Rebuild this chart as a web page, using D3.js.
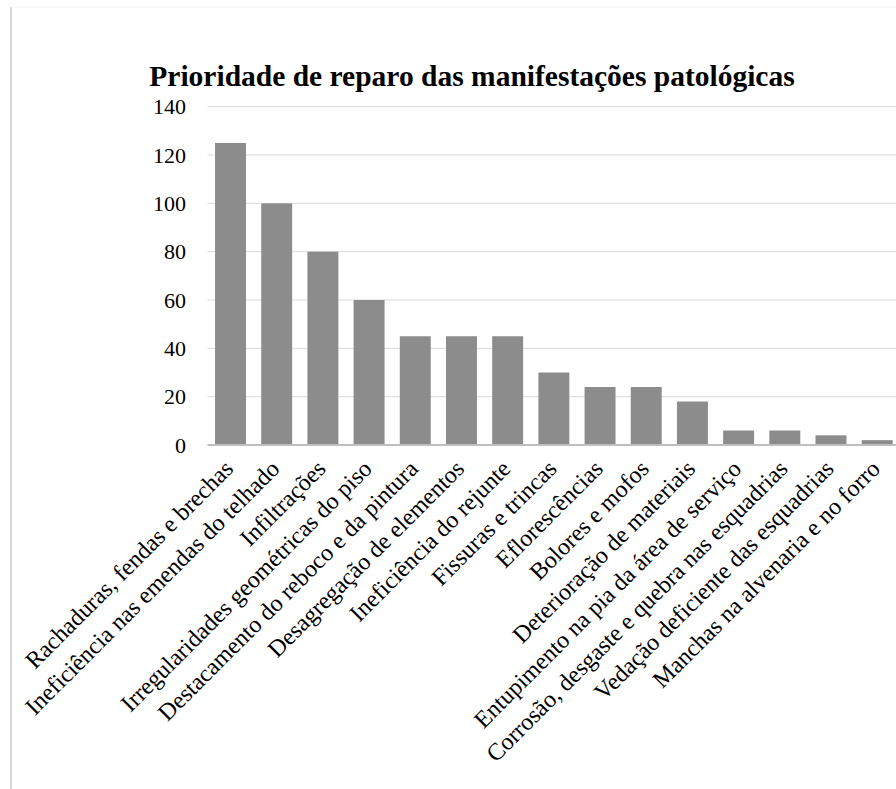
<!DOCTYPE html>
<html>
<head>
<meta charset="utf-8">
<script src="https://cdn.jsdelivr.net/npm/d3@7"></script>
<style>
  html, body { margin: 0; padding: 0; background: #fff; }
  svg { display: block; font-family: "Liberation Serif", "Times New Roman", serif; }
</style>
</head>
<body>
<svg id="chart" width="896" height="789"></svg>
<script>
const categories = [
  "Rachaduras, fendas e brechas",
  "Ineficiência nas emendas do telhado",
  "Infiltrações",
  "Irregularidades geométricas do piso",
  "Destacamento do reboco e da pintura",
  "Desagregação de elementos",
  "Ineficiência do rejunte",
  "Fissuras e trincas",
  "Eflorescências",
  "Bolores e mofos",
  "Deterioração de materiais",
  "Entupimento na pia da área de serviço",
  "Corrosão, desgaste e quebra nas esquadrias",
  "Vedação deficiente das esquadrias",
  "Manchas na alvenaria e no forro"
];
const values = [125, 100, 80, 60, 45, 45, 45, 30, 24, 24, 18, 6, 6, 4, 2];
const yTicks = [0, 20, 40, 60, 80, 100, 120, 140];
const title = "Prioridade de reparo das manifestações patológicas";

const svg = d3.select("#chart");
const width = 896, height = 789;
const margin = { top: 106.7, left: 207.4, right: -4.3 };
const baseY = 445;

// frame lines of the page around the chart
svg.append("line")
  .attr("x1", 11).attr("x2", 11).attr("y1", 7).attr("y2", height)
  .attr("stroke", "#d6d6d6").attr("stroke-width", 2);
svg.append("line")
  .attr("x1", 10).attr("x2", width).attr("y1", 7).attr("y2", 7)
  .attr("stroke", "#f2f2f2").attr("stroke-width", 1);

const x = d3.scaleBand()
  .domain(categories)
  .range([margin.left, width - margin.right])
  .paddingInner(0.33)
  .paddingOuter(0.165);

const y = d3.scaleLinear()
  .domain([0, 140])
  .range([baseY, margin.top]);

// gridlines
svg.append("g")
  .selectAll("line")
  .data(yTicks.filter(d => d > 0))
  .join("line")
  .attr("x1", margin.left)
  .attr("x2", width)
  .attr("y1", d => y(d))
  .attr("y2", d => y(d))
  .attr("stroke", "#d9d9d9")
  .attr("stroke-width", 1);

// y tick labels
svg.append("g")
  .selectAll("text")
  .data(yTicks)
  .join("text")
  .attr("x", 186)
  .attr("y", d => y(d))
  .attr("dy", "0.35em")
  .attr("text-anchor", "end")
  .attr("font-size", 22)
  .attr("fill", "#000")
  .text(d => d);

// bars
svg.append("g")
  .selectAll("rect")
  .data(values)
  .join("rect")
  .attr("x", (d, i) => x(categories[i]))
  .attr("width", x.bandwidth())
  .attr("y", d => y(d))
  .attr("height", d => baseY - y(d))
  .attr("fill", "#8c8c8c");

// baseline
svg.append("line")
  .attr("x1", margin.left).attr("x2", width)
  .attr("y1", baseY).attr("y2", baseY)
  .attr("stroke", "#bfbfbf").attr("stroke-width", 2);

// rotated category labels
svg.append("g")
  .selectAll("text")
  .data(categories)
  .join("text")
  .attr("transform", d => `translate(${x(d) + x.bandwidth() / 2 - 8},${baseY + 13}) rotate(-45)`)
  .attr("dy", "0.72em")
  .attr("text-anchor", "end")
  .attr("font-size", 24)
  .attr("fill", "#000")
  .text(d => d);

// title
svg.append("text")
  .attr("x", 472)
  .attr("y", 86)
  .attr("text-anchor", "middle")
  .attr("font-size", 29.5)
  .attr("font-weight", "bold")
  .attr("fill", "#000")
  .text(title);
</script>
</body>
</html>
